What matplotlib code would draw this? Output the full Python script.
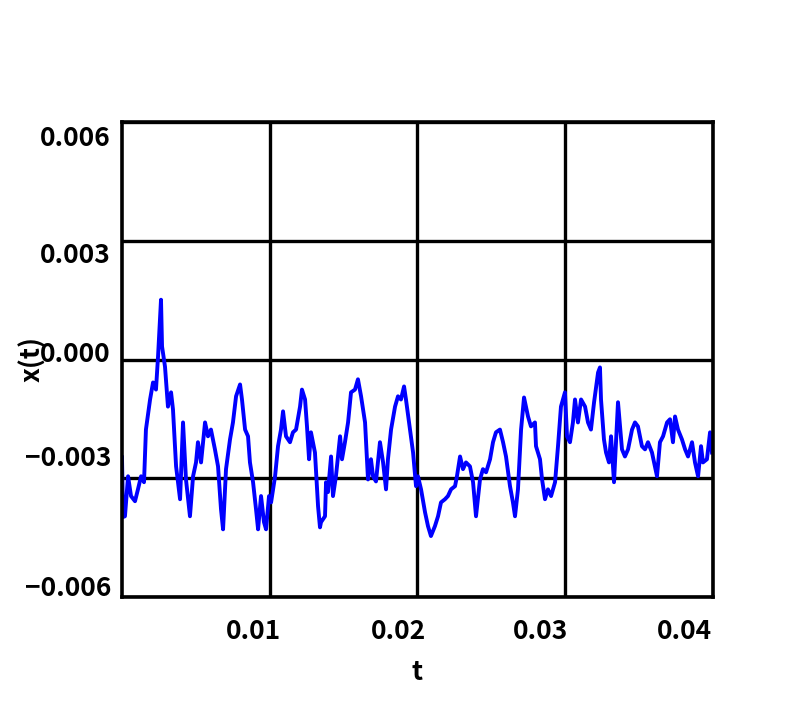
import matplotlib
matplotlib.use("Agg")
import matplotlib.pyplot as plt
import matplotlib.transforms as mtransforms
import numpy as np

# time in ms, signal in units of 1e-3
t_ms = [
    0.00, 0.07, 0.20, 0.41, 0.61, 0.88, 1.08, 1.29, 1.49, 1.62, 1.90, 2.10, 2.30, 2.44,
    2.64, 2.71, 2.91, 3.11, 3.32, 3.45, 3.66, 3.93, 4.13, 4.33, 4.60, 4.81, 5.01, 5.14,
    5.35, 5.62, 5.82, 6.02, 6.29, 6.50, 6.70, 6.84, 7.04, 7.31, 7.51, 7.72, 7.99, 8.12,
    8.33, 8.53, 8.66, 8.87, 9.07, 9.21, 9.41, 9.61, 9.75, 9.95, 10.09, 10.36, 10.56,
    10.76, 10.90, 11.10, 11.37, 11.57, 11.78, 12.05, 12.18, 12.39, 12.52, 12.66, 12.79,
    13.06, 13.27, 13.40, 13.47, 13.74, 13.81, 13.94, 14.15, 14.28, 14.48, 14.76, 14.89,
    15.09, 15.30, 15.50, 15.77, 15.97, 16.18, 16.45, 16.65, 16.85, 16.99, 17.19, 17.46,
    17.67, 17.87, 18.00, 18.21, 18.48, 18.68, 18.88, 19.09, 19.22, 19.49, 19.70, 19.90,
    20.03, 20.24, 20.51, 20.71, 20.91, 21.18, 21.39, 21.59, 21.86, 22.06, 22.27, 22.54,
    22.67, 22.88, 23.08, 23.28, 23.55, 23.76, 23.96, 24.23, 24.43, 24.64, 24.91, 25.11,
    25.31, 25.58, 25.79, 25.99, 26.26, 26.46, 26.60, 26.80, 27.01, 27.21, 27.48, 27.68,
    27.95, 28.02, 28.29, 28.43, 28.63, 28.83, 29.04, 29.31, 29.51, 29.71, 29.98, 30.12,
    30.32, 30.52, 30.66, 30.86, 31.07, 31.34, 31.54, 31.74, 31.95, 32.22, 32.35, 32.42,
    32.62, 32.76, 32.96, 33.10, 33.30, 33.57, 33.84, 34.04, 34.25, 34.52, 34.72, 34.92,
    35.19, 35.40, 35.60, 35.87, 36.07, 36.21, 36.41, 36.62, 36.89, 37.09, 37.29, 37.43,
    37.63, 37.90, 38.11, 38.31, 38.58, 38.78, 38.99, 39.19, 39.32, 39.59, 39.80, 39.93,
]
x_milli = [
    -2.47, -3.98, -3.96, -2.95, -3.45, -3.58, -3.28, -2.95, -3.10, -1.77, -1.01, -0.58,
    -0.76, 0.08, 1.51, 0.33, -0.18, -1.19, -0.83, -1.26, -2.70, -3.53, -1.59, -3.03,
    -3.96, -2.95, -2.60, -2.09, -2.60, -1.59, -1.94, -1.77, -2.27, -2.70, -3.78, -4.29,
    -2.77, -2.02, -1.59, -0.93, -0.63, -1.01, -1.77, -1.94, -2.60, -3.10, -3.78, -4.29,
    -3.45, -4.11, -4.29, -3.45, -3.61, -2.95, -2.19, -1.77, -1.31, -1.94, -2.09, -1.84,
    -1.77, -1.19, -0.76, -1.01, -1.69, -2.52, -1.84, -2.35, -3.71, -4.24, -4.11, -3.96,
    -3.10, -3.35, -2.45, -3.45, -2.95, -1.94, -2.52, -2.09, -1.59, -0.83, -0.76, -0.50,
    -0.93, -1.59, -3.03, -2.52, -2.95, -3.08, -2.09, -2.60, -3.28, -2.52, -1.77, -1.19,
    -0.93, -1.01, -0.68, -1.01, -1.77, -2.35, -3.20, -2.95, -3.28, -3.86, -4.21, -4.46,
    -4.21, -3.96, -3.61, -3.53, -3.45, -3.28, -3.20, -2.95, -2.45, -2.77, -2.60, -2.70,
    -3.10, -3.96, -3.03, -2.77, -2.85, -2.52, -2.09, -1.84, -1.77, -2.09, -2.45, -3.20,
    -3.61, -3.96, -3.28, -1.77, -0.96, -1.44, -1.69, -1.59, -2.19, -2.52, -3.03, -3.53,
    -3.28, -3.45, -3.10, -2.19, -1.19, -0.83, -1.94, -2.09, -1.59, -1.01, -1.59, -1.01,
    -1.19, -1.59, -1.77, -1.08, -0.33, -0.20, -1.01, -2.02, -2.35, -2.60, -1.94, -3.10,
    -1.08, -2.27, -2.45, -2.27, -1.77, -1.59, -1.69, -2.19, -2.27, -2.09, -2.35, -2.70,
    -2.95, -2.09, -1.94, -1.59, -1.51, -2.09, -1.44, -1.77, -2.02, -2.27, -2.45, -2.09,
    -2.60, -2.95, -2.19, -2.60, -2.52, -1.84, -2.35,
]

x_ticks = [0.01, 0.02, 0.03, 0.04]
x_ticklabels = ["0.01", "0.02", "0.03", "0.04"]
y_ticks = [-0.006, -0.003, 0.0, 0.003, 0.006]
y_ticklabels = ["\u22120.006", "\u22120.003", "0.000", "0.003", "0.006"]

# label nudges (px) to mimic the reference placement
x_label_dx = [-16, -19, -25, -29]
y_label_dy = [12, 23, 8, -12, -13]

FONT = ["Noto Sans CJK JP", "DejaVu Sans"]
plt.rcParams["font.family"] = FONT
FS = 19

t = np.array(t_ms) * 1e-3
x = np.array(x_milli) * 1e-3

fig = plt.figure(figsize=(7.9, 7.15), dpi=100)
ax = fig.add_axes([122 / 790, 1 - 597 / 715, 591 / 790, 475 / 715])

ax.plot(t, x, color="#0000ff", linewidth=2.8)

ax.set_xlim(0, 0.04)
ax.set_ylim(-0.006, 0.006)
ax.set_xticks(x_ticks)
ax.set_xticklabels(x_ticklabels, fontsize=FS, fontweight="bold")
ax.set_yticks(y_ticks)
ax.set_yticklabels(y_ticklabels, fontsize=FS, fontweight="bold")
ax.tick_params(axis="both", length=0)
ax.tick_params(axis="x", pad=15)
ax.tick_params(axis="y", pad=8)

ax.grid(True, color="black", linewidth=2.4)
ax.set_axisbelow(True)
for sp in ax.spines.values():
    sp.set_linewidth(2.6)
    sp.set_color("black")

for lab, dx in zip(ax.get_xticklabels(), x_label_dx):
    lab.set_transform(lab.get_transform() + mtransforms.ScaledTranslation(dx / 100, 0, fig.dpi_scale_trans))
for lab, dy in zip(ax.get_yticklabels(), y_label_dy):
    lab.set_transform(lab.get_transform() + mtransforms.ScaledTranslation(0, dy / 100, fig.dpi_scale_trans))

ax.set_xlabel("t", fontsize=FS, fontweight="bold", labelpad=10)
ax.set_ylabel("x(t)", fontsize=FS, fontweight="bold", labelpad=-16)

fig.savefig("out.png", dpi=100)
